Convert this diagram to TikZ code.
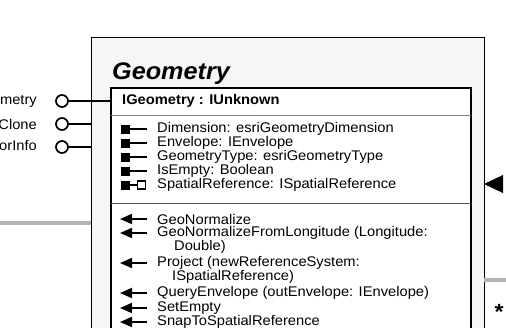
\documentclass[tikz,border=0pt]{standalone}
\usepackage{fontspec}
\setmainfont{Liberation Sans}[FakeStretch=1.05]
\usetikzlibrary{arrows.meta,positioning}

\definecolor{boxgray}{HTML}{F6F6F6}
\definecolor{linkgray}{HTML}{B4B4B4}

\begin{document}
\begin{tikzpicture}[x=1pt,y=-1pt,>={Triangle[length=12pt,width=10pt]},
  member/.style={anchor=west,inner sep=0pt,font=\fontsize{14}{14}\selectfont},
  iname/.style={anchor=east,inner sep=0pt,font=\fontsize{14}{14}\selectfont},
  lolly/.style={circle,draw,line width=1.7pt,fill=white,minimum size=12pt,inner sep=0pt},
  propsq/.style={fill=black},
  openprop/.style={draw=black,line width=1.2pt,fill=white}]
  % Page frame (the picture is cut at every side)
  \useasboundingbox (0,0) rectangle (506,327);
  \clip (0,0) rectangle (506,327);

  % Class and interface box bounds
  \def\xo{91}
  \def\yo{37}
  \def\xr{484}
  \def\xi{111}
  \def\yi{88}
  \def\xir{471}

  % Class box
  \draw[fill=boxgray,line width=1pt] (\xo,340) |- (\xr,\yo) -- (\xr,340);
  \node[anchor=base west,inner sep=0pt,font=\fontsize{24}{24}\selectfont\bfseries\itshape]
    (title) at (112,79) {Geometry};

  % Interface box
  \draw[fill=white,line width=1.6pt] (\xi,340) |- (\xir,\yi) -- (\xir,340);
  \node[member,font=\fontsize{14}{14}\selectfont\bfseries] (hdr) at (122,101) {IGeometry : IUnknown};
  \draw[gray,line width=0.9pt] (\xi,115) -- (\xir,115);
  \draw[gray!70!black,line width=0.9pt] (\xi,203) -- (\xir,203);

  % Properties
  \node[member] (dim) at (157,129) {Dimension: esriGeometryDimension};
  \node[member] (env) at (157,143) {Envelope: IEnvelope};
  \node[member] (gtype) at (157,157) {GeometryType: esriGeometryType};
  \node[member] (empty) at (157,171) {IsEmpty: Boolean};
  \node[member] (sref) at (157,185) {SpatialReference: ISpatialReference};

  \fill[propsq] (120.5,124.5) rectangle (129.5,133.5);
  \draw[line width=1.8pt] (129,129) -- (147,129);
  \fill[propsq] (120.5,138.5) rectangle (129.5,147.5);
  \draw[line width=1.8pt] (129,143) -- (147,143);
  \fill[propsq] (120.5,152.5) rectangle (129.5,161.5);
  \draw[line width=1.8pt] (129,157) -- (147,157);
  \fill[propsq] (120.5,166.5) rectangle (129.5,175.5);
  \draw[line width=1.8pt] (129,171) -- (147,171);
  \fill[propsq] (120.5,180.5) rectangle (129.5,189.5);
  \draw[line width=1.8pt] (129,185) -- (137,185);
  \draw[openprop] (137.5,181) rectangle (145.5,189);

  % Methods
  \node[member] (gnorm) at (157,219) {GeoNormalize};
  \node[member] (gnlong) at (157,233) {GeoNormalizeFromLongitude (Longitude:};
  \node[member] (gnlong2) at (174,247) {Double)};
  \node[member] (proj) at (157,263) {Project (newReferenceSystem:};
  \node[member] (proj2) at (172,277) {ISpatialReference)};
  \node[member] (qenv) at (157,293) {QueryEnvelope (outEnvelope: IEnvelope)};
  \node[member] (setempty) at (157,308) {SetEmpty};
  \node[member] (snap) at (157,322) {SnapToSpatialReference};

  \draw[->,line width=1.8pt] (147,219) -- (120,219);
  \draw[->,line width=1.8pt] (147,233) -- (120,233);
  \draw[->,line width=1.8pt] (147,263) -- (120,263);
  \draw[->,line width=1.8pt] (147,293) -- (120,293);
  \draw[->,line width=1.8pt] (147,308) -- (120,308);
  \draw[->,line width=1.8pt] (147,322) -- (120,322);

  % Lollipop interfaces
  \node[lolly] (igeom) at (62,101) {};
  \node[lolly] (iclone) at (62,124) {};
  \node[lolly] (isupp) at (62,147) {};
  \coordinate (igeomend) at (\xi,101);
  \coordinate (icloneend) at (\xo,124);
  \coordinate (isuppend) at (\xo,147);
  \draw[line width=1.5pt] (igeom) -- (igeomend);
  \draw[line width=1.5pt] (iclone) -- (icloneend);
  \draw[line width=1.5pt] (isupp) -- (isuppend);

  \node[iname] (igeomlbl) at (37,101) {IGeometry};
  \node[iname] (iclonelbl) at (37,124) {IClone};
  \node[iname] (isupplbl) at (37,147) {ISupportErrorInfo};

  % Links to neighbouring classes
  \fill (\xr,184) -- (503,175) -- (503,193) -- cycle;
  \draw[linkgray,line width=4.5pt] (0,223) -- (\xo,223);
  \draw[linkgray,line width=4.5pt] (\xr,280) -- (506,280);
  \node[font=\fontsize{22}{22}\selectfont\bfseries] (mult) at (499,312) {*};

\end{tikzpicture}
\end{document}
